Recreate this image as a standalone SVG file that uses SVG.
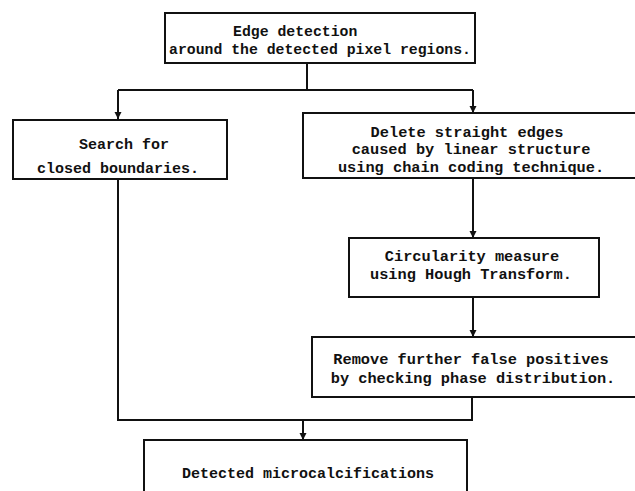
<svg xmlns="http://www.w3.org/2000/svg" width="635" height="491" viewBox="0 0 635 491">
  <style>
    .box { fill: #ffffff; stroke: #111111; stroke-width: 2; }
    .wire { fill: none; stroke: #111111; stroke-width: 2; }
    text { font-family: "Liberation Mono", "DejaVu Sans Mono", monospace; font-weight: bold; font-size: 15px; fill: #111111; }
    .c { text-anchor: middle; }
    .r { font-size: 15.3px; }
  </style>
  <defs>
    <marker id="arrow" viewBox="0 0 10 10" refX="10" refY="5" markerWidth="7" markerHeight="9" markerUnits="userSpaceOnUse" orient="auto">
      <path d="M0,0 L10,5 L0,10 z" fill="#111111"/>
    </marker>
  </defs>
  <rect width="635" height="491" fill="#ffffff"/>

  <g id="connectors">
    <path class="wire" d="M307,63 V90"/>
    <path class="wire" d="M118,90 H473"/>
    <path class="wire" d="M118,90 V119" marker-end="url(#arrow)"/>
    <path class="wire" d="M473,90 V113" marker-end="url(#arrow)"/>
    <path class="wire" d="M473,178 V238" marker-end="url(#arrow)"/>
    <path class="wire" d="M473,297 V337" marker-end="url(#arrow)"/>
    <path class="wire" d="M118,179 V420 H472 V397"/>
    <path class="wire" d="M303,420 V440" marker-end="url(#arrow)"/>
  </g>

  <g id="edge-detection">
    <rect class="box" x="165" y="13" width="310" height="50"/>
    <text x="233" y="36" style="font-size:14.8px">Edge detection</text>
    <text class="c" x="320" y="54" style="font-size:14.8px">around the detected pixel regions.</text>
  </g>

  <g id="closed-boundaries">
    <rect class="box" x="13" y="120" width="214" height="59"/>
    <text class="c" x="124" y="149">Search for</text>
    <text class="c" x="118" y="173">closed boundaries.</text>
  </g>

  <g id="delete-straight-edges">
    <rect class="box" x="303" y="113" width="340" height="65"/>
    <text class="c r" x="467" y="137">Delete straight edges</text>
    <text class="c r" x="471" y="154">caused by linear structure</text>
    <text class="c r" x="471" y="171.5">using chain coding technique.</text>
  </g>

  <g id="circularity">
    <rect class="box" x="349" y="238" width="250" height="59"/>
    <text class="c r" x="472" y="261">Circularity measure</text>
    <text class="c r" x="471" y="279">using Hough Transform.</text>
  </g>

  <g id="false-positives">
    <rect class="box" x="312" y="337" width="331" height="60"/>
    <text class="c r" x="471" y="364">Remove further false positives</text>
    <text class="c r" x="473" y="383">by checking phase distribution.</text>
  </g>

  <g id="detected">
    <rect class="box" x="144" y="440" width="323" height="70"/>
    <text class="c" x="308" y="478">Detected microcalcifications</text>
  </g>
</svg>
